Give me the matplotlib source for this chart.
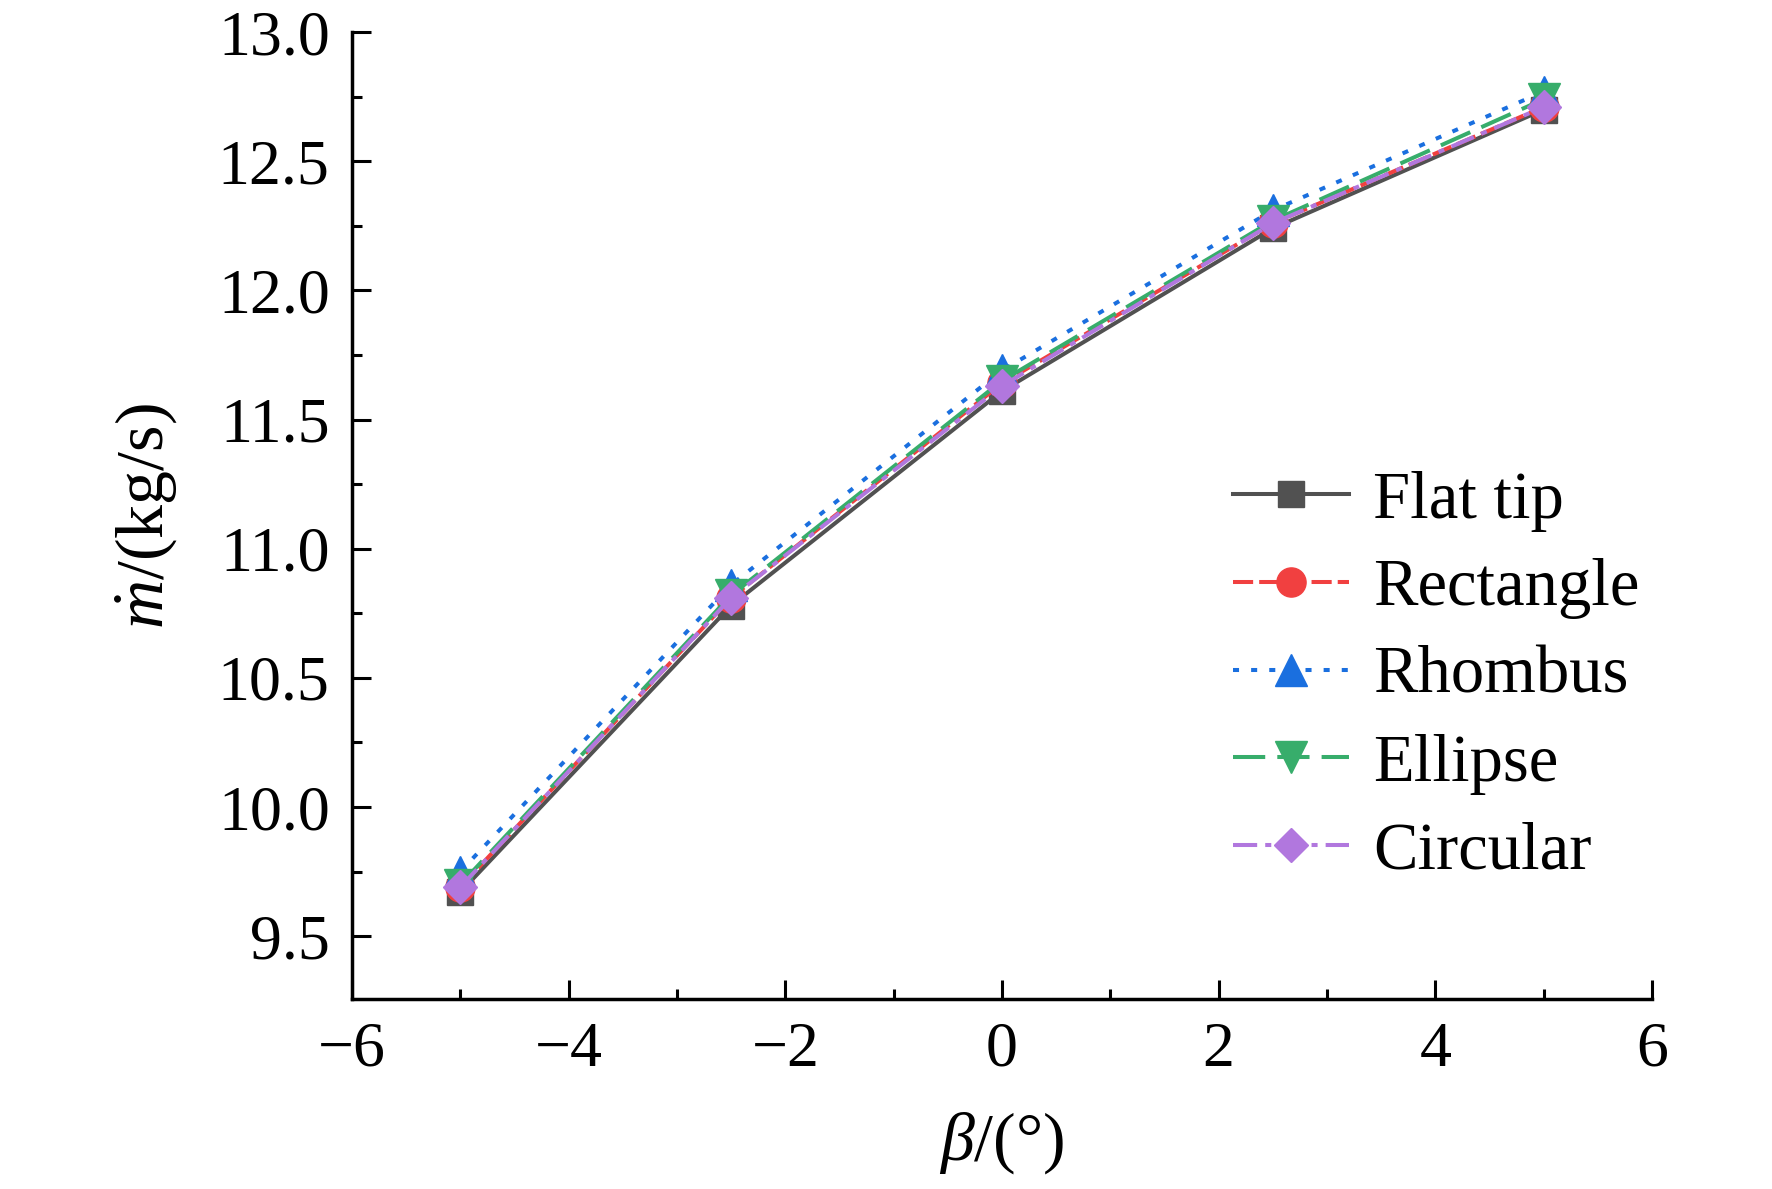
import matplotlib
matplotlib.use('Agg')
import matplotlib.pyplot as plt
from matplotlib.ticker import MultipleLocator

# Data
beta = [-5, -2.5, 0, 2.5, 5]
flat_tip = [9.67, 10.78, 11.61, 12.24, 12.70]
rectangle = [9.69, 10.81, 11.64, 12.26, 12.71]
rhombus = [9.75, 10.86, 11.69, 12.31, 12.77]
ellipse = [9.70, 10.82, 11.65, 12.27, 12.74]
circular = [9.69, 10.81, 11.63, 12.26, 12.71]

plt.rcParams['font.family'] = ['Liberation Serif', 'DejaVu Serif']
plt.rcParams['mathtext.fontset'] = 'custom'
plt.rcParams['mathtext.rm'] = 'Liberation Serif'
plt.rcParams['mathtext.it'] = 'Liberation Serif:italic'
plt.rcParams['font.size'] = 46

fig = plt.figure(figsize=(17.72, 11.89), dpi=100)
ax = fig.add_axes([0.1986, 0.1594, 0.7337, 0.8136])

lw = 2.9
ax.plot(beta, flat_tip, color='#515151', ls='-', lw=lw, marker='s', ms=19, label='Flat tip')
ax.plot(beta, rectangle, color='#F14040', ls=(0, (5, 1.5)), lw=lw, marker='o', ms=21, label='Rectangle')
ax.plot(beta, rhombus, color='#1A6FDF', ls=(0, (1.5, 3)), lw=lw, marker='^', ms=23, label='Rhombus')
ax.plot(beta, ellipse, color='#37AD6B', ls=(0, (8, 3)), lw=lw, marker='v', ms=23, label='Ellipse')
ax.plot(beta, circular, color='#B177DE', ls=(0, (6, 2, 1.5, 2)), lw=lw, marker='D', ms=17.5, label='Circular')

ax.set_xlim(-6, 6)
ax.set_ylim(9.255, 13.0)
ax.xaxis.set_major_locator(MultipleLocator(2))
ax.xaxis.set_minor_locator(MultipleLocator(1))
ax.yaxis.set_major_locator(MultipleLocator(0.5))
ax.yaxis.set_minor_locator(MultipleLocator(0.25))

for s in ['top', 'right']:
    ax.spines[s].set_visible(False)
for s in ['left', 'bottom']:
    ax.spines[s].set_linewidth(2.5)

ax.tick_params(which='major', direction='in', length=14, width=2.2)
ax.tick_params(which='minor', direction='in', length=7, width=2.2)
ax.tick_params(axis='y', which='major', pad=16)
ax.tick_params(axis='x', which='major', pad=16)

ax.set_xlabel(r'$\beta$/(°)', fontsize=49, labelpad=22)
ax.set_ylabel(r'$\dot{m}$/(kg/s)', fontsize=49, labelpad=28)

ax.legend(loc='center left', bbox_to_anchor=(0.657, 0.334), frameon=False,
          fontsize=48, handlelength=1.75, labelspacing=0.4, handletextpad=0.35,
          borderaxespad=0)

fig.savefig('out.png', dpi=100)
